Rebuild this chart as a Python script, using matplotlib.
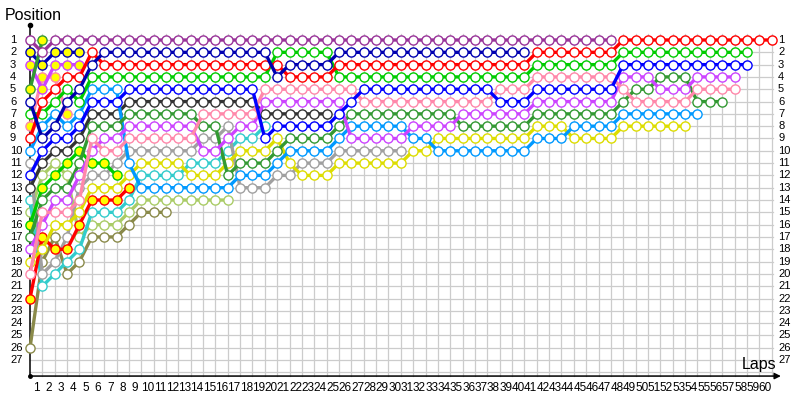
import matplotlib
matplotlib.use('Agg')
import matplotlib.pyplot as plt

# ---- data: position of each car per lap (index = lap, starting at lap 0) ----
purple = [1,2,1,1,1,1,1,1,1,1, 1,1,1,1,1,1,1,1,1,1, 1,1,1,1,1,1,1,1,1,1,
          1,1,1,1,1,1,1,1,1,1, 1,1,1,1,1,1,1,1]
navy = [6,9,8,6,5,3,2,2,2,2, 2,2,2,2,2,2,2,2,2,2, 4,3,3,3,3,2,2,2,2,2,
        2,2,2,2,2,2,2,2,2,2, 2]
red = [9,6,5,4,4,2,3,3,3,3, 3,3,3,3,3,3,3,3,3,3, 3,4,4,4,4,3,3,3,3,3,
       3,3,3,3,3,3,3,3,3,3, 3,2,2,2,2,2,2,2,1,1, 1,1,1,1,1,1,1,1,1,1, 1]
green = [7,7,6,5,6,4,4,4,4,4, 4,4,4,4,4,4,4,4,4,4, 2,2,2,2,2,4,4,4,4,4,
         4,4,4,4,4,4,4,4,4,4, 4,3,3,3,3,3,3,3,2,2, 2,2,2,2,2,2,2,2,2]
blue = [12,10,9,9,8,6,6,6,5,5, 5,5,5,5,5,5,5,5,5,9, 8,8,8,8,8,7,6,5,5,5,
        5,5,5,5,5,5,5,5,6,6, 6,5,5,5,5,5,5,5,3,3, 3,3,3,3,3,3,3,3,3]
pink = [20,15,15,15,14,9,10,10,9,9, 9,9,9,9,7,7,7,7,7,5, 5,5,5,5,5,5,5,6,6,6,
        6,6,6,6,6,6,6,6,5,5, 5,4,4,4,4,4,4,4,5,6, 6,6,6,6,5,5,5,5]
black = [13,11,10,10,9,7,7,7,6,6, 6,6,6,6,6,6,6,6,6,7, 7,7,7,7,7]
forest = [17,14,13,13,11,8,8,8,7,7, 7,7,7,7,8,8,12,11,11,11, 10,9,9,9,9,8,7,7,7,7,
          7,7,7,7,7,8,8,8,8,8, 8,7,7,7,7,7,7,7,6,5, 5,4,4,4,6,6,6]
violet = [18,16,14,14,12,10,9,9,8,8, 8,8,8,8,10,10,9,8,8,6, 6,6,6,6,6,6,9,9,9,9,
          9,8,8,8,8,7,7,7,7,7, 7,6,6,6,6,6,6,6,4,4, 4,5,5,5,4,4,4,4]
sky = [10,8,7,8,7,5,5,5,11,13, 13,13,13,13,13,13,13,12,12,12, 11,10,10,10,10,9,8,8,8,8,
       8,9,9,10,10,10,10,10,10,10, 10,9,9,9,8,8,8,8,7,7, 7,7,7,7,7]
yellow = [19,18,16,16,15,13,13,13,12,11, 11,11,11,12,12,12,11,10,10,10, 9,11,12,12,12,11,11,11,11,11,
          11,10,10,9,9,9,9,9,9,9, 9,8,8,8,9,9,9,9,8,8, 8,8,8,8]
grey = [11,20,19,17,13,12,12,11,10,10, 10,10,10,10,9,9,8,13,13,13, 12,12,11,11,11,10,10,10,10,10, 10]
teal = [14,21,20,19,18,15,15,15,14,12, 12,12,12,11,11,11,10,9,9,8]
lgreen = [15,12,11,12,17,16,16,16,15,14, 14,14,14,14,14,14,14]
olive = [26,19,17,20,19,17,17,17,16,15, 15,15]
red2 = [22,17,18,18,16,14,14,14,13]
green2 = [16,13,12,11,10,11,11,12]
navy2 = [2,3,2,2,2]
violet2 = [3,5,3,3,3]
pink2 = [8,4,4,7]
green3 = [5,1]

lap_labels = [str(i) for i in range(1, 61)]
pos_labels = [str(i) for i in range(1, 28)]

# ---- styles ----
cars = [
    (olive, '#8a8a4a', 'white'),
    (lgreen, '#aacc66', 'white'),
    (teal, '#33cccc', 'white'),
    (grey, '#a0a0a0', 'white'),
    (black, '#333333', 'white'),
    (red2, '#ff0000', '#ffff00'),
    (green2, '#00cc00', '#ffff00'),
    (pink2, '#ff88aa', '#ffff00'),
    (violet2, '#cc44ff', '#ffff00'),
    (navy2, '#0000b0', '#ffff00'),
    (green3, '#339933', '#ffff00'),
    (yellow, '#dddd00', 'white'),
    (sky, '#0099ff', 'white'),
    (forest, '#339933', 'white'),
    (violet, '#cc44ff', 'white'),
    (pink, '#ff88aa', 'white'),
    (blue, '#0000ff', 'white'),
    (green, '#00cc00', 'white'),
    (red, '#ff0000', 'white'),
    (navy, '#0000b0', 'white'),
    (purple, '#993399', 'white'),
]

W, H = 800, 400
X0, DX = 30.0, 12.36      # pixel of lap 0, pixels per lap
Y0, DY = 40.0, 12.31      # pixel of position 1, pixels per position

fig = plt.figure(figsize=(8, 4), dpi=100)
ax = fig.add_axes([0, 0, 1, 1])
ax.set_xlim(-X0 / DX, (W - X0) / DX)
ax.set_ylim(1 + (H - Y0) / DY, 1 - Y0 / DY)
ax.axis('off')

nl = len(lap_labels)
np_ = len(pos_labels)
grid_c = '#cccccc'
# grid
for i in range(1, nl + 1):
    ax.plot([i, i], [0.55, 28.3], color=grid_c, lw=0.9, zorder=1)
for j in range(1, np_ + 2):
    ax.plot([0, nl + 0.15], [j, j], color=grid_c, lw=0.9, zorder=1)

# axes lines
ax.plot([0, 0], [-0.2, 28.3], color='black', lw=1.1, zorder=2)
ax.plot([0], [-0.2], 'o', color='black', ms=3, zorder=2)
ax.plot([0], [28.3], 'o', color='black', ms=2.5, zorder=2)
ax.annotate('', xy=(nl + 0.75, 28.3), xytext=(0, 28.3),
            arrowprops=dict(arrowstyle='-|>', color='black', lw=1.1,
                            mutation_scale=9, shrinkA=0, shrinkB=0), zorder=2)

# cars
z = 3
for vals, col, face in cars:
    laps = list(range(len(vals)))
    ax.plot(laps, vals, '-', color=col, lw=2.4, zorder=z, solid_capstyle='round')
    ax.plot(laps, vals, 'o', ms=6.6, mfc=face, mec=col, mew=1.0, zorder=z + 0.5,
            linestyle='none')
    z += 1

fnt = ['Liberation Sans', 'DejaVu Sans']
# tick labels
for j, lab in enumerate(pos_labels, start=1):
    ax.text(-20.0 / DX, j, lab, ha='left', va='center', fontsize=8, family=fnt)
    ax.text((778 - X0) / DX, j, lab, ha='left', va='center', fontsize=8, family=fnt)
for i, lab in enumerate(lap_labels, start=1):
    ax.text(i - 0.5, 1 + (388 - Y0) / DY, lab, ha='center', va='center',
            fontsize=8.5, family=fnt)

ax.text(5.0 / W, 1 - 15.0 / H, 'Position', transform=fig.transFigure,
        ha='left', va='center', fontsize=11.5, family=fnt)
ax.text(776.0 / W, 1 - 365.0 / H, 'Laps', transform=fig.transFigure,
        ha='right', va='center', fontsize=11.5, family=fnt)

fig.savefig('out.png', dpi=100)
